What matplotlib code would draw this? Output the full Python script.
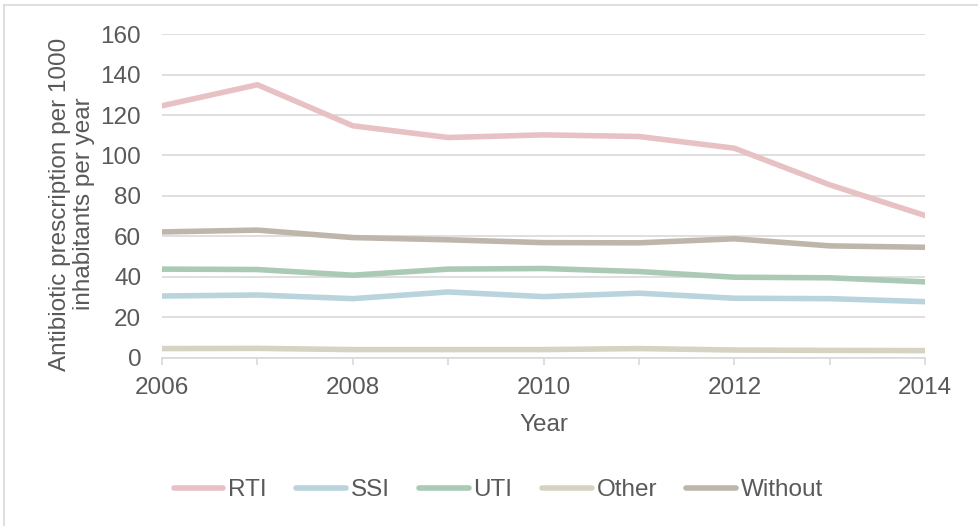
import matplotlib.pyplot as plt
from matplotlib.lines import Line2D

# data
years = [2006, 2007, 2008, 2009, 2010, 2011, 2012, 2013, 2014]
rti = [124.6, 135.0, 114.7, 108.9, 110.2, 109.4, 103.6, 85.5, 70.3]
ssi = [30.5, 31.0, 29.2, 32.5, 30.2, 31.9, 29.4, 29.2, 27.7]
uti = [43.8, 43.6, 40.8, 43.8, 44.1, 42.6, 39.8, 39.5, 37.5]
other = [4.5, 4.6, 4.0, 4.0, 4.0, 4.5, 3.8, 3.6, 3.5]
without = [62.2, 63.1, 59.4, 58.3, 56.9, 56.8, 58.8, 55.3, 54.6]

names = ['RTI', 'SSI', 'UTI', 'Other', 'Without']
series = [rti, ssi, uti, other, without]
colors = ['#E8C1C5', '#B9D4DD', '#AACAB6', '#D7D3C3', '#BEB6AB']

plt.rcParams['font.family'] = ['Liberation Sans', 'DejaVu Sans']
txt = '#595959'
grid = '#d9d9d9'
fs = 17.5

fig = plt.figure(figsize=(9.79, 5.26), dpi=100)
ax = fig.add_axes([0.1655, 0.320, 0.7795, 0.615])

for vals, c, n in zip(series, colors, names):
    ax.plot(years, vals, color=c, lw=4, label=n, solid_capstyle='round',
            solid_joinstyle='round', zorder=3)

ax.set_xlim(2006, 2014)
ax.set_ylim(0, 160)
ax.set_yticks(range(0, 161, 20))
ax.set_xticks(years, minor=True)
ax.set_xticks(range(2006, 2015, 2))

ax.grid(axis='y', color=grid, lw=1.2)
ax.set_axisbelow(True)
for s in ['top', 'right', 'left']:
    ax.spines[s].set_visible(False)
ax.spines['bottom'].set_color(grid)
ax.spines['bottom'].set_linewidth(1.2)

ax.tick_params(axis='y', length=0, labelsize=fs, colors=txt, pad=15)
ax.tick_params(axis='x', which='both', length=5, width=1.2, color=grid,
               labelsize=fs, labelcolor=txt, pad=9)

ax.set_xlabel('Year', fontsize=fs, color=txt, labelpad=11)
ax.set_ylabel('Antibiotic prescription per 1000\ninhabitants per year',
              fontsize=fs, color=txt, linespacing=1.12)
ax.yaxis.set_label_coords(-0.088, 0.475)

handles = [Line2D([0], [0], color=c, lw=4, solid_capstyle='round') for c in colors]
fig.legend(handles, names, loc='center', bbox_to_anchor=(0.509, 0.068), ncol=5,
           frameon=False, fontsize=fs, labelcolor=txt, handlelength=2.05,
           handletextpad=0.2, columnspacing=1.2)

# light frame on top and left edge
fig.add_artist(Line2D([4 / 979, 1], [1 - 5 / 526, 1 - 5 / 526], color=grid, lw=1.2,
                      transform=fig.transFigure))
fig.add_artist(Line2D([4 / 979, 4 / 979], [0, 1 - 5 / 526], color=grid, lw=1.2,
                      transform=fig.transFigure))

fig.savefig('out.png', dpi=100)
